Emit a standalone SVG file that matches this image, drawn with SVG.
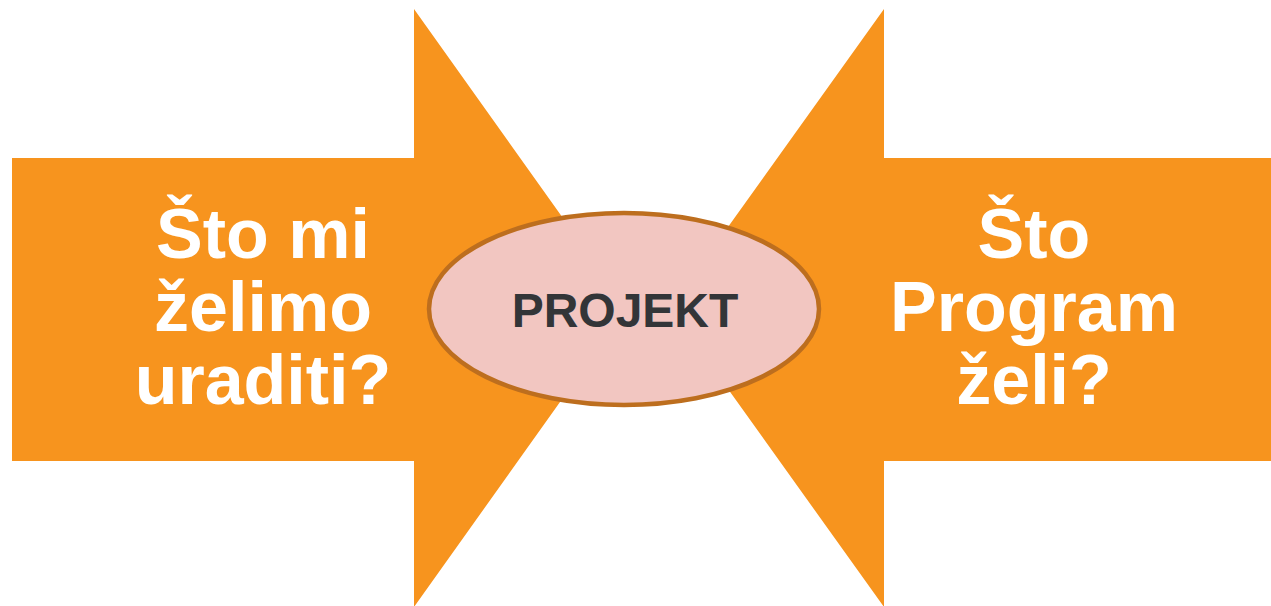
<svg xmlns="http://www.w3.org/2000/svg" width="1271" height="606" viewBox="0 0 1271 606">
  <style>
    .arrow { fill: #F7941E; }
    .q { font-family: "Liberation Sans", Arial, sans-serif; font-weight: bold; font-size: 70px; fill: #FFFFFF; text-anchor: middle; }
    .p { font-family: "Liberation Sans", Arial, sans-serif; font-weight: bold; font-size: 48px; fill: #333538; text-anchor: middle; }
  </style>
  <rect width="1271" height="606" fill="#FFFFFF"/>
  <g id="left-arrow">
    <polygon class="arrow" points="12,158 414,158 414,9 627,308 414,607 414,461 12,461"/>
    <text class="q" x="263" y="258">Što mi</text>
    <text class="q" x="263" y="331">želimo</text>
    <text class="q" x="263" y="404">uraditi?</text>
  </g>
  <g id="right-arrow">
    <polygon class="arrow" points="1271,158 884,158 884,9 670,308 884,607 884,461 1271,461"/>
    <text class="q" x="1034" y="258">Što</text>
    <text class="q" x="1034" y="331">Program</text>
    <text class="q" x="1034" y="404">želi?</text>
  </g>
  <g id="projekt">
    <ellipse cx="624" cy="309" rx="195" ry="96" fill="#F2C6C1" stroke="#BD6E1E" stroke-width="4.5"/>
    <text class="p" x="625" y="327">PROJEKT</text>
  </g>
  <g id="connectors"/>
</svg>
